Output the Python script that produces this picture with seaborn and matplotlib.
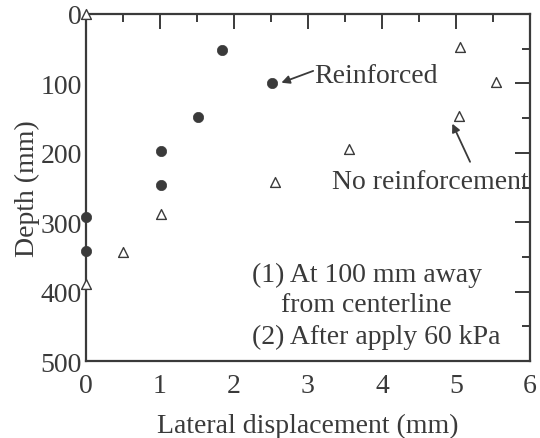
import matplotlib
matplotlib.use("Agg")
import matplotlib.pyplot as plt
import seaborn as sns
import pandas as pd
from matplotlib.ticker import MultipleLocator

# Data
reinf_disp = [1.84, 2.51, 1.51, 1.01, 1.01, 0.0, 0.0]
reinf_depth = [52, 99, 148, 197, 246, 293, 341]
noreinf_disp = [0.0, 5.05, 5.54, 5.04, 3.55, 2.55, 1.01, 0.5, 0.0]
noreinf_depth = [0, 48, 98, 147, 194, 242, 288, 343, 389]

x_ticks = [0, 1, 2, 3, 4, 5, 6]
y_ticks = [0, 100, 200, 300, 400, 500]

df_r = pd.DataFrame({"disp": reinf_disp, "depth": reinf_depth})
df_n = pd.DataFrame({"disp": noreinf_disp, "depth": noreinf_depth})

sns.set_theme(style="white")
plt.rcParams["font.family"] = ["Liberation Serif", "DejaVu Serif"]
ink = "#3a3a3a"
plt.rcParams["text.color"] = ink
FS = 20

fig = plt.figure(figsize=(5.40, 4.39), dpi=100)
ax = fig.add_axes([86/540, 1 - 362/439, (530-86)/540, (362-15)/439])

sns.scatterplot(data=df_r, x="disp", y="depth", ax=ax, marker="o", s=55,
                color=ink, edgecolor=ink, linewidth=0.5, clip_on=False, zorder=5)
sns.scatterplot(data=df_n, x="disp", y="depth", ax=ax, marker="^", s=50,
                facecolor="white", edgecolor=ink, linewidth=1.0, clip_on=False, zorder=5)

ax.set_xlim(0, 6)
ax.set_ylim(500, 0)
ax.set_xticks(x_ticks)
ax.set_yticks(y_ticks)
ax.set_xticklabels([str(t) for t in x_ticks])
ax.set_yticklabels([str(t) for t in y_ticks])
ax.xaxis.set_minor_locator(MultipleLocator(0.5))
ax.yaxis.set_minor_locator(MultipleLocator(50))
ax.tick_params(which="both", direction="in", top=True, right=True, color=ink,
               labelcolor=ink, labelsize=FS)
ax.tick_params(axis="x", pad=9)
ax.tick_params(axis="y", pad=3)
ax.tick_params(which="major", length=11, width=1.4)
ax.tick_params(which="minor", length=6, width=1.4)
for sp in ax.spines.values():
    sp.set_color(ink)
    sp.set_linewidth(1.6)

ax.set_xlabel("Lateral displacement (mm)", fontsize=FS, color=ink, labelpad=10)
ax.set_ylabel("Depth (mm)", fontsize=FS, color=ink, labelpad=0)

arrow = dict(arrowstyle="-|>", color=ink, lw=1.3, shrinkA=0, shrinkB=0, mutation_scale=12)
ax.text(3.09, 89, "Reinforced", fontsize=FS, color=ink, ha="left", va="center")
ax.annotate("", xy=(2.64, 99), xytext=(3.07, 82), arrowprops=arrow)
ax.text(5.98, 241, "No reinforcement", fontsize=FS, color=ink, ha="right", va="center")
ax.annotate("", xy=(4.95, 158), xytext=(5.19, 213), arrowprops=arrow)

ax.text(2.24, 375, "(1) At 100 mm away", fontsize=FS, color=ink, ha="left", va="center")
ax.text(2.64, 418, "from centerline", fontsize=FS, color=ink, ha="left", va="center")
ax.text(2.24, 465, "(2) After apply 60 kPa", fontsize=FS, color=ink, ha="left", va="center")

fig.savefig("out.png", dpi=100)
